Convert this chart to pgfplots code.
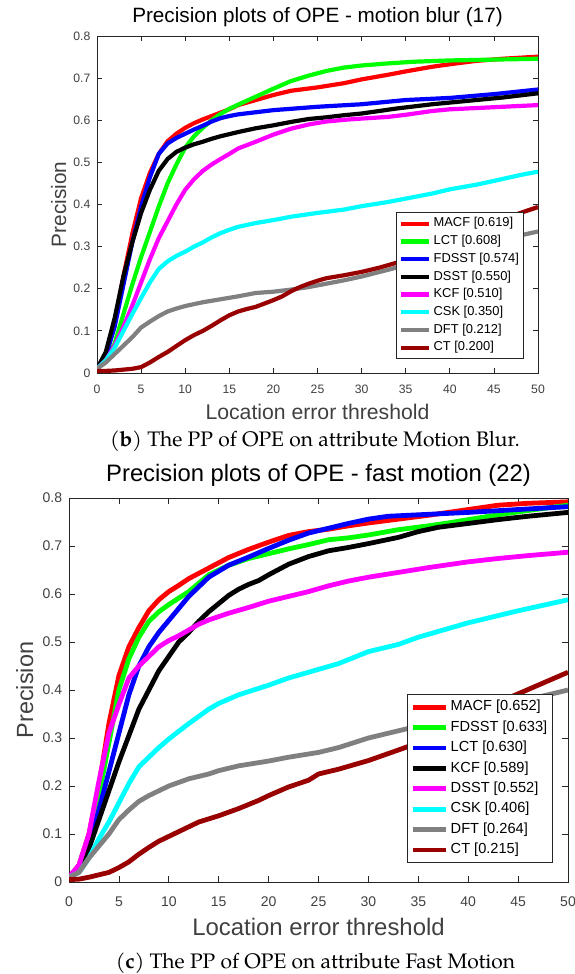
\documentclass[border=0pt]{standalone}
\usepackage{fontspec}
\setmainfont{Liberation Sans}
\newfontfamily\capfont{TeX Gyre Pagella}
\usepackage{pgfplots}
\pgfplotsset{compat=1.18}
\definecolor{axgray}{rgb}{0.15,0.15,0.15}
\definecolor{labgray}{rgb}{0.25,0.25,0.25}
\definecolor{ctred}{rgb}{0.6,0,0}
\definecolor{dftgray}{rgb}{0.5,0.5,0.5}
\definecolor{mred}{rgb}{1,0,0}
\definecolor{mgreen}{rgb}{0,1,0}
\definecolor{mblue}{rgb}{0,0,1}
\definecolor{mmag}{rgb}{1,0,1}
\definecolor{mcyan}{rgb}{0,1,1}

% ---------------- top plot: motion blur ----------------
\pgfplotstableread{
x y
0 0.01
1 0.04
2 0.12
3 0.23
4 0.33
5 0.415
6 0.475
7 0.52
8 0.55
9 0.568
10 0.582
11 0.593
12 0.602
13 0.61
14 0.618
15 0.626
16 0.636
18 0.648
20 0.66
22 0.67
25 0.678
28 0.688
30 0.697
33 0.708
35 0.716
38 0.727
40 0.733
43 0.741
46 0.746
50 0.751
}\tMACF
\pgfplotstableread{
x y
0 0.01
1 0.03
2 0.07
3 0.14
4 0.21
5 0.275
6 0.335
7 0.395
8 0.45
9 0.495
10 0.535
11 0.562
12 0.582
13 0.60
14 0.615
15 0.627
16 0.637
18 0.656
20 0.675
22 0.693
24 0.706
26 0.717
28 0.725
30 0.73
33 0.735
36 0.739
40 0.742
45 0.744
50 0.746
}\tLCT
\pgfplotstableread{
x y
0 0.01
1 0.04
2 0.11
3 0.21
4 0.31
5 0.395
6 0.465
7 0.52
8 0.545
9 0.558
10 0.568
11 0.578
12 0.587
13 0.597
14 0.605
15 0.61
16 0.614
18 0.619
20 0.624
25 0.632
30 0.638
35 0.648
40 0.653
45 0.662
50 0.673
}\tFDSST
\pgfplotstableread{
x y
0 0.01
1 0.05
2 0.13
3 0.23
4 0.31
5 0.38
6 0.435
7 0.48
8 0.508
9 0.525
10 0.535
11 0.543
12 0.549
13 0.556
14 0.562
16 0.572
18 0.581
20 0.588
22 0.596
24 0.603
26 0.607
28 0.612
30 0.616
32 0.622
34 0.628
36 0.633
38 0.638
40 0.642
43 0.648
46 0.654
50 0.664
}\tDSST
\pgfplotstableread{
x y
0 0.01
1 0.03
2 0.065
3 0.11
4 0.16
5 0.215
6 0.27
7 0.32
8 0.36
9 0.40
10 0.435
11 0.46
12 0.48
13 0.495
14 0.508
15 0.52
16 0.533
17 0.541
18 0.549
20 0.566
22 0.58
24 0.59
26 0.597
28 0.601
30 0.604
33 0.608
35 0.613
38 0.622
40 0.626
43 0.629
46 0.632
50 0.636
}\tKCF
\pgfplotstableread{
x y
0 0.01
1 0.03
2 0.06
3 0.10
4 0.14
5 0.178
6 0.215
7 0.247
8 0.265
9 0.278
10 0.288
11 0.30
12 0.31
13 0.322
14 0.332
15 0.34
16 0.347
18 0.356
20 0.363
22 0.371
25 0.38
28 0.388
30 0.396
33 0.406
35 0.414
38 0.426
40 0.436
43 0.447
45 0.456
48 0.47
50 0.478
}\tCSK
\pgfplotstableread{
x y
0 0.01
1 0.025
2 0.045
3 0.065
4 0.085
5 0.108
6 0.122
7 0.135
8 0.146
9 0.153
10 0.159
12 0.168
14 0.175
16 0.182
18 0.19
20 0.193
22 0.198
24 0.204
26 0.212
28 0.22
30 0.229
33 0.245
36 0.262
40 0.285
44 0.305
47 0.322
50 0.336
}\tDFT
\pgfplotstableread{
x y
0 0.005
1 0.005
2 0.006
3 0.008
4 0.01
5 0.014
6 0.025
7 0.038
8 0.05
9 0.064
10 0.078
11 0.09
12 0.10
13 0.112
14 0.125
15 0.137
16 0.146
17 0.152
18 0.157
19 0.165
20 0.173
21 0.182
22 0.194
23 0.204
24 0.212
25 0.219
26 0.225
28 0.232
30 0.24
32 0.25
34 0.262
36 0.275
38 0.29
40 0.305
43 0.33
45 0.35
47 0.372
48 0.38
50 0.394
}\tCT

% ---------------- bottom plot: fast motion ----------------
\pgfplotstableread{
x y
0 0.01
1 0.035
2 0.10
3 0.20
4 0.33
5 0.43
6 0.49
7 0.53
8 0.565
9 0.588
10 0.605
11 0.618
12 0.632
14 0.654
16 0.676
18 0.693
20 0.708
22 0.722
24 0.73
26 0.735
28 0.742
30 0.748
33 0.756
36 0.764
40 0.776
43 0.785
46 0.789
50 0.792
}\bMACF
\pgfplotstableread{
x y
0 0.01
1 0.03
2 0.09
3 0.18
4 0.29
5 0.40
6 0.465
7 0.51
8 0.543
9 0.563
10 0.578
12 0.605
14 0.64
16 0.66
18 0.674
20 0.684
22 0.694
24 0.703
26 0.713
28 0.717
30 0.723
33 0.734
36 0.742
38 0.748
40 0.755
43 0.765
46 0.774
50 0.785
}\bFDSST
\pgfplotstableread{
x y
0 0.01
1 0.03
2 0.08
3 0.15
4 0.23
5 0.31
6 0.39
7 0.45
8 0.49
9 0.52
10 0.545
11 0.57
12 0.595
13 0.615
14 0.635
16 0.66
18 0.677
20 0.695
22 0.712
24 0.727
26 0.737
28 0.747
30 0.756
32 0.762
35 0.765
40 0.77
45 0.776
50 0.782
}\bLCT
\pgfplotstableread{
x y
0 0.01
1 0.03
2 0.07
3 0.13
4 0.19
5 0.25
6 0.305
7 0.36
8 0.40
9 0.44
10 0.47
11 0.50
12 0.52
13 0.543
14 0.563
15 0.58
16 0.597
17 0.61
18 0.62
19 0.628
20 0.64
22 0.662
24 0.678
26 0.69
28 0.697
30 0.705
33 0.718
35 0.73
37 0.739
40 0.747
43 0.755
46 0.762
50 0.77
}\bKCF
\pgfplotstableread{
x y
0 0.01
1 0.035
2 0.10
3 0.21
4 0.31
5 0.37
6 0.425
7 0.45
8 0.47
9 0.49
10 0.503
11 0.513
12 0.525
13 0.537
14 0.546
16 0.56
18 0.572
20 0.585
22 0.595
24 0.605
26 0.617
28 0.627
30 0.635
33 0.645
36 0.655
40 0.667
43 0.674
46 0.68
50 0.687
}\bDSST
\pgfplotstableread{
x y
0 0.01
1 0.02
2 0.05
3 0.09
4 0.125
5 0.165
6 0.205
7 0.24
8 0.26
9 0.28
10 0.298
12 0.33
14 0.36
15 0.372
17 0.39
20 0.41
22 0.425
25 0.443
27 0.455
30 0.48
33 0.495
35 0.51
40 0.54
45 0.565
50 0.588
}\bCSK
\pgfplotstableread{
x y
0 0.01
1 0.02
2 0.05
3 0.075
4 0.10
5 0.13
6 0.15
7 0.168
8 0.18
9 0.19
10 0.20
12 0.215
14 0.225
15 0.232
17 0.242
20 0.252
22 0.26
25 0.27
27 0.28
30 0.30
33 0.315
35 0.325
40 0.35
45 0.375
50 0.40
}\bDFT
\pgfplotstableread{
x y
0 0.005
1 0.006
2 0.01
3 0.015
4 0.02
5 0.03
6 0.042
7 0.058
8 0.072
9 0.085
10 0.095
12 0.115
13 0.125
15 0.138
17 0.153
19 0.17
20 0.18
22 0.198
24 0.212
25 0.225
27 0.235
30 0.253
33 0.275
35 0.29
40 0.335
44 0.383
47 0.41
50 0.437
}\bCT

\pgfplotsset{
  opeaxis/.style={
    scale only axis,
    xmin=0, xmax=50, ymin=0, ymax=0.8,
    xtick={0,5,10,15,20,25,30,35,40,45,50},
    ytick={0,0.1,0.2,0.3,0.4,0.5,0.6,0.7,0.8},
    tick align=inside,
    axis line style={axgray, line width=0.8bp},
    tick style={axgray, line width=0.8bp},
    /pgf/number format/assume math mode=true,
    yticklabel style={/pgf/number format/fixed, /pgf/number format/precision=1},
    xticklabel style={anchor=base, inner sep=0pt, text=labgray},
    legend cell align=left,
    every axis plot/.append style={line join=round},
  }
}

\begin{document}
\begin{tikzpicture}
\useasboundingbox (0,0) rectangle (575bp,-974bp);

% ============ TOP ============
\begin{axis}[opeaxis,
  at={(97bp,-373bp)}, anchor=south west,
  width=441bp, height=337bp,
  major tick length=5bp,
  every axis plot/.append style={line width=4.2bp},
  tick label style={font=\fontsize{12.2bp}{14bp}\selectfont},
  xticklabel style={yshift=-20bp},
  yticklabel style={anchor=east, inner sep=0pt, xshift=-6.5bp, text=labgray},
  title={Precision plots of OPE - motion blur (17)},
  title style={font=\fontsize{20.7bp}{24bp}\selectfont, at={(axis description cs:0.5,1.0237)}, anchor=base, inner sep=0pt},
  xlabel={Location error threshold},
  xlabel style={font=\fontsize{21.2bp}{24bp}\selectfont, text=labgray, at={(axis description cs:0.5,-0.1365)}, anchor=base, inner sep=0pt},
  ylabel={Precision},
  ylabel style={font=\fontsize{20.8bp}{24bp}\selectfont, text=labgray, at={(axis description cs:-0.0703,0.5)}, anchor=base, inner sep=0pt},
  legend image code/.code={\draw[#1] (0bp,0bp) -- (28.5bp,0bp);},
  legend style={at={(1,0)}, anchor=south east, xshift=-14bp, yshift=14bp,
    draw=axgray, line width=0.7bp, fill=white, inner sep=2.2bp, row sep=0bp,
    font=\fontsize{12.9bp}{15bp}\selectfont,
    nodes={inner xsep=2.5bp, inner ysep=2.6bp, text height=9.5bp, text depth=3bp}},
]
\addplot[mred] table[x=x,y=y] {\tMACF};
\addlegendentry{MACF [0.619]}
\addplot[mgreen] table[x=x,y=y] {\tLCT};
\addlegendentry{LCT [0.608]}
\addplot[mblue] table[x=x,y=y] {\tFDSST};
\addlegendentry{FDSST [0.574]}
\addplot[black] table[x=x,y=y] {\tDSST};
\addlegendentry{DSST [0.550]}
\addplot[mmag] table[x=x,y=y] {\tKCF};
\addlegendentry{KCF [0.510]}
\addplot[mcyan] table[x=x,y=y] {\tCSK};
\addlegendentry{CSK [0.350]}
\addplot[dftgray] table[x=x,y=y] {\tDFT};
\addlegendentry{DFT [0.212]}
\addplot[ctred] table[x=x,y=y] {\tCT};
\addlegendentry{CT [0.200]}
\end{axis}

\node[anchor=base, inner sep=0pt, font=\capfont\fontsize{21bp}{24bp}\selectfont] at (315bp,-446.7bp) {(\textbf{b}) The PP of OPE on attribute Motion Blur.};

% ============ BOTTOM ============
\begin{axis}[opeaxis,
  at={(69bp,-882bp)}, anchor=south west,
  width=499bp, height=384bp,
  major tick length=5.7bp,
  every axis plot/.append style={line width=4.8bp},
  tick label style={font=\fontsize{14bp}{16bp}\selectfont},
  xticklabel style={yshift=-24.5bp},
  yticklabel style={anchor=east, inner sep=0pt, xshift=-6.7bp, text=labgray},
  title={Precision plots of OPE - fast motion (22)},
  title style={font=\fontsize{23.8bp}{27bp}\selectfont, at={(axis description cs:0.5,1.0279)}, anchor=base, inner sep=0pt},
  xlabel={Location error threshold},
  xlabel style={font=\fontsize{23.9bp}{27bp}\selectfont, text=labgray, at={(axis description cs:0.5,-0.138)}, anchor=base, inner sep=0pt},
  ylabel={Precision},
  ylabel style={font=\fontsize{23.4bp}{27bp}\selectfont, text=labgray, at={(axis description cs:-0.0721,0.5)}, anchor=base, inner sep=0pt},
  legend image code/.code={\draw[#1] (0bp,0bp) -- (33bp,0bp);},
  legend style={at={(1,0)}, anchor=south east, xshift=-15bp, yshift=19bp,
    draw=axgray, line width=0.8bp, fill=white, inner sep=2.5bp, row sep=0bp,
    font=\fontsize{14.6bp}{17bp}\selectfont,
    nodes={inner xsep=2.8bp, inner ysep=3.1bp, text height=10.8bp, text depth=3.4bp}},
]
\addplot[mred] table[x=x,y=y] {\bMACF};
\addlegendentry{MACF [0.652]}
\addplot[mgreen] table[x=x,y=y] {\bFDSST};
\addlegendentry{FDSST [0.633]}
\addplot[mblue] table[x=x,y=y] {\bLCT};
\addlegendentry{LCT [0.630]}
\addplot[black] table[x=x,y=y] {\bKCF};
\addlegendentry{KCF [0.589]}
\addplot[mmag] table[x=x,y=y] {\bDSST};
\addlegendentry{DSST [0.552]}
\addplot[mcyan] table[x=x,y=y] {\bCSK};
\addlegendentry{CSK [0.406]}
\addplot[dftgray] table[x=x,y=y] {\bDFT};
\addlegendentry{DFT [0.264]}
\addplot[ctred] table[x=x,y=y] {\bCT};
\addlegendentry{CT [0.215]}
\end{axis}

\node[anchor=base, inner sep=0pt, font=\capfont\fontsize{21bp}{24bp}\selectfont] at (315.5bp,-968bp) {(\textbf{c}) The PP of OPE on attribute Fast Motion};
\end{tikzpicture}
\end{document}
